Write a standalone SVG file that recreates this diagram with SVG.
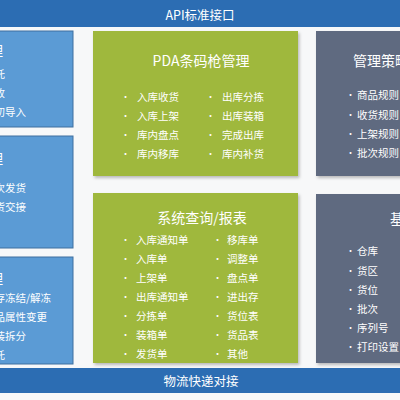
<svg xmlns="http://www.w3.org/2000/svg" width="400" height="400" viewBox="0 0 400 400">
<defs>
<filter id="sh" x="-10%" y="-10%" width="130%" height="130%">
<feDropShadow dx="1.5" dy="2" stdDeviation="1.5" flood-color="#000" flood-opacity="0.25"/>
</filter>
<style>
text{font-family:"Noto Sans CJK SC","Liberation Sans",sans-serif;fill:#fff;dominant-baseline:central}
.bar{fill:#2c6db3}
.blue{fill:#5b9bd5;stroke:#3f6f9f;stroke-width:1}
.green{fill:#9fb83c;filter:url(#sh)}
.gray{fill:#5e6a80;filter:url(#sh)}
.t{font-size:14px}
.bt{font-size:12.5px}
.i{font-size:10.5px}
.b{font-size:9px}
.e{text-anchor:end}
.m{text-anchor:middle}
</style>
</defs>
<rect width="400" height="400" fill="#f7f8f9"/>

<g id="top-bar">
<rect class="bar" x="0" y="0" width="400" height="27"/>
<text class="bt m" x="200" y="14">API标准接口</text>
</g>

<g id="left-box-1">
<rect class="blue" x="-10" y="31" width="83" height="96"/>
<text class="t e" x="3" y="50">入库管理</text>
<text class="i" x="-16" y="73">组托</text>
<text class="i" x="-16" y="92">验收</text>
<text class="i" x="-16" y="111">期初导入</text>
</g>

<g id="left-box-2">
<rect class="blue" x="-10" y="136" width="83" height="112"/>
<text class="t e" x="3" y="158">出库管理</text>
<text class="i" x="-16" y="187">分次发货</text>
<text class="i" x="-16" y="206">发货交接</text>
</g>

<g id="left-box-3">
<rect class="blue" x="-10" y="257" width="83" height="107"/>
<text class="t e" x="3" y="278">库存管理</text>
<text class="i" x="-16" y="297">库存冻结/解冻</text>
<text class="i" x="-16" y="316">货品属性变更</text>
<text class="i" x="-16" y="335">包装拆分</text>
<text class="i" x="-16" y="354">拆托</text>
</g>

<g id="pda">
<rect class="green" x="93" y="31" width="205" height="145"/>
<text class="t m" x="201" y="60">PDA条码枪管理</text>
<text x="121" y="96" class="b">•</text><text class="i" x="137" y="96">入库收货</text>
<text x="121" y="115" class="b">•</text><text class="i" x="137" y="115">入库上架</text>
<text x="121" y="134" class="b">•</text><text class="i" x="137" y="134">库内盘点</text>
<text x="121" y="153" class="b">•</text><text class="i" x="137" y="153">库内移库</text>
<text x="206" y="96" class="b">•</text><text class="i" x="222" y="96">出库分拣</text>
<text x="206" y="115" class="b">•</text><text class="i" x="222" y="115">出库装箱</text>
<text x="206" y="134" class="b">•</text><text class="i" x="222" y="134">完成出库</text>
<text x="206" y="153" class="b">•</text><text class="i" x="222" y="153">库内补货</text>
</g>

<g id="reports">
<rect class="green" x="93" y="193" width="205" height="170"/>
<text class="t m" x="202" y="217">系统查询/报表</text>
<text x="121" y="239" class="b">•</text><text class="i" x="136" y="239">入库通知单</text>
<text x="121" y="258" class="b">•</text><text class="i" x="136" y="258">入库单</text>
<text x="121" y="277" class="b">•</text><text class="i" x="136" y="277">上架单</text>
<text x="121" y="296" class="b">•</text><text class="i" x="136" y="296">出库通知单</text>
<text x="121" y="315" class="b">•</text><text class="i" x="136" y="315">分拣单</text>
<text x="121" y="334" class="b">•</text><text class="i" x="136" y="334">装箱单</text>
<text x="121" y="353" class="b">•</text><text class="i" x="136" y="353">发货单</text>
<text x="213" y="239" class="b">•</text><text class="i" x="227" y="239">移库单</text>
<text x="213" y="258" class="b">•</text><text class="i" x="227" y="258">调整单</text>
<text x="213" y="277" class="b">•</text><text class="i" x="227" y="277">盘点单</text>
<text x="213" y="296" class="b">•</text><text class="i" x="227" y="296">进出存</text>
<text x="213" y="315" class="b">•</text><text class="i" x="227" y="315">货位表</text>
<text x="213" y="334" class="b">•</text><text class="i" x="227" y="334">货品表</text>
<text x="213" y="353" class="b">•</text><text class="i" x="227" y="353">其他</text>
</g>

<g id="strategy">
<rect class="gray" x="316" y="31" width="110" height="145"/>
<text class="t" x="353" y="60">管理策略</text>
<text x="346" y="94" class="b">•</text><text class="i" x="357" y="94">商品规则</text>
<text x="346" y="114" class="b">•</text><text class="i" x="357" y="114">收货规则</text>
<text x="346" y="133" class="b">•</text><text class="i" x="357" y="133">上架规则</text>
<text x="346" y="152" class="b">•</text><text class="i" x="357" y="152">批次规则</text>
</g>

<g id="basic-data">
<rect class="gray" x="316" y="194" width="110" height="169"/>
<text class="t" x="390" y="218">基础资料</text>
<text x="346" y="250" class="b">•</text><text class="i" x="357" y="250">仓库</text>
<text x="346" y="270" class="b">•</text><text class="i" x="357" y="270">货区</text>
<text x="346" y="289" class="b">•</text><text class="i" x="357" y="289">货位</text>
<text x="346" y="308" class="b">•</text><text class="i" x="357" y="308">批次</text>
<text x="346" y="327" class="b">•</text><text class="i" x="357" y="327">序列号</text>
<text x="346" y="346" class="b">•</text><text class="i" x="357" y="346">打印设置</text>
</g>

<g id="bottom-bar">
<rect class="bar" x="0" y="368" width="400" height="25"/>
<text class="bt m" x="201" y="380.5">物流快递对接</text>
</g>
</svg>
